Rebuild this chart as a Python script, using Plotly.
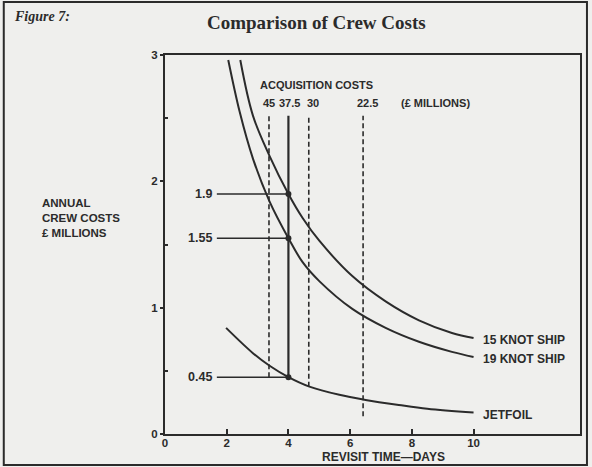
import plotly.graph_objects as go

# Annual crew cost (£ millions) against revisit time (days)
ship15_days = [2.44, 2.85, 3.39, 4.0, 4.46, 5.0, 6.07, 7.15, 8.23, 9.3, 10.0]
ship15_cost = [2.96, 2.52, 2.20, 1.9, 1.71, 1.53, 1.25, 1.05, 0.90, 0.80, 0.76]

ship19_days = [2.05, 2.42, 2.85, 3.39, 4.0, 4.46, 5.0, 6.07, 7.15, 8.23, 9.3, 10.0]
ship19_cost = [2.96, 2.55, 2.18, 1.84, 1.55, 1.36, 1.21, 0.99, 0.84, 0.73, 0.65, 0.61]

jetfoil_days = [1.98, 2.85, 3.39, 4.0, 4.68, 5.65, 6.5, 7.58, 8.5, 10.0]
jetfoil_cost = [0.84, 0.64, 0.54, 0.45, 0.375, 0.31, 0.27, 0.23, 0.20, 0.17]

curve_names = ["15 KNOT SHIP", "19 KNOT SHIP", "JETFOIL"]

# Acquisition cost markers (£ millions) and the revisit time each sits at
acq_labels = ["45", "37.5", "30", "22.5"]
acq_days = [3.37, 4.0, 4.66, 6.42]
acq_floor = [0.45, 0.45, 0.375, 0.14]
acq_top = 2.52

# Crew cost read-off at a 4-day revisit
readout_day = 4.0
readout_cost = [1.9, 1.55, 0.45]
readout_labels = ["1.9", "1.55", "0.45"]
readout_start = 1.68

x_ticks = [0, 2, 4, 6, 8, 10]
y_ticks = [0, 1, 2, 3]
y_minor = [0.5, 1.5, 2.5]

INK = "#2b2b2b"
PAPER = "#efefed"
SANS = "Liberation Sans"
SERIF = "Liberation Serif"

W, H = 592, 467
L, R, T, B = 165, 10, 55, 33
PW, PH = W - L - R, H - T - B


def px_x(p):
    return (p - L) / PW


def px_y(p):
    return (H - B - p) / PH


def b(s):
    return "<b>" + s + "</b>"


fig = go.Figure()

# Cost curves
for days, cost in [(ship15_days, ship15_cost), (ship19_days, ship19_cost),
                   (jetfoil_days, jetfoil_cost)]:
    fig.add_trace(go.Scatter(x=days, y=cost, mode="lines",
                             line=dict(color=INK, width=2, shape="spline", smoothing=1.0),
                             hoverinfo="skip", showlegend=False))

# Acquisition cost lines: the 37.5 option is solid, the others dashed
for lab, d, lo in zip(acq_labels, acq_days, acq_floor):
    solid = lab == "37.5"
    fig.add_trace(go.Scatter(x=[d, d], y=[lo, acq_top], mode="lines",
                             line=dict(color=INK, width=2.2 if solid else 1.6,
                                       dash="solid" if solid else "5px,3px"),
                             hoverinfo="skip", showlegend=False))

# Horizontal read-off lines and intersection dots
for c in readout_cost:
    fig.add_trace(go.Scatter(x=[readout_start, readout_day], y=[c, c], mode="lines",
                             line=dict(color=INK, width=1.5),
                             hoverinfo="skip", showlegend=False))
fig.add_trace(go.Scatter(x=[readout_day] * len(readout_cost), y=readout_cost, mode="markers",
                         marker=dict(color=INK, size=6),
                         hoverinfo="skip", showlegend=False))

sans = dict(family=SANS, color=INK)
ann = []

for lab, c in zip(readout_labels, readout_cost):
    ann.append(dict(x=readout_start, y=c, xref="x", yref="y", text=b(lab), showarrow=False,
                    xanchor="right", yanchor="middle", xshift=-3,
                    font=dict(size=12.5, **sans)))

acq_shift = [0, 1, 4, 4]
for lab, d, s in zip(acq_labels, acq_days, acq_shift):
    ann.append(dict(x=d, y=2.62, xref="x", yref="y", text=b(lab), showarrow=False,
                    xanchor="center", yanchor="middle", xshift=s,
                    font=dict(size=11, **sans)))
ann.append(dict(x=4.92, y=2.76, xref="x", yref="y", text=b("ACQUISITION COSTS"),
                showarrow=False, xanchor="center", yanchor="middle",
                font=dict(size=11, **sans)))
ann.append(dict(x=8.77, y=2.62, xref="x", yref="y", text=b("(£ MILLIONS)"),
                showarrow=False, xanchor="center", yanchor="middle",
                font=dict(size=11, **sans)))

ends = [(ship15_days[-1], ship15_cost[-1]), (ship19_days[-1], ship19_cost[-1]),
        (jetfoil_days[-1], jetfoil_cost[-1])]
for name, (d, c) in zip(curve_names, ends):
    ann.append(dict(x=d, y=c, xref="x", yref="y", text=b(name), showarrow=False,
                    xanchor="left", yanchor="middle", xshift=7, yshift=-2,
                    font=dict(size=12, **sans)))

ann.append(dict(x=px_x(317), y=px_y(22), xref="paper", yref="paper",
                text=b("Comparison of Crew Costs"), showarrow=False,
                xanchor="center", yanchor="middle",
                font=dict(family=SERIF, size=19, color=INK)))
ann.append(dict(x=px_x(11), y=px_y(16), xref="paper", yref="paper",
                text="<b><i>Figure 7:</i></b>", showarrow=False,
                xanchor="left", yanchor="middle",
                font=dict(family=SERIF, size=14, color=INK)))
ann.append(dict(x=px_x(39), y=px_y(218), xref="paper", yref="paper",
                text=b("ANNUAL<br>CREW COSTS<br>£ MILLIONS"), showarrow=False,
                xanchor="left", yanchor="middle", align="left",
                font=dict(size=11.5, **sans)))
ann.append(dict(x=px_x(385), y=px_y(457), xref="paper", yref="paper",
                text=b("REVISIT TIME—DAYS"), showarrow=False,
                xanchor="center", yanchor="middle",
                font=dict(size=12, **sans)))

fig.update_layout(
    width=W, height=H,
    margin=dict(l=L, r=R, t=T, b=B, pad=0),
    paper_bgcolor=PAPER, plot_bgcolor=PAPER,
    annotations=ann,
    shapes=[dict(type="rect", xref="paper", yref="paper",
                 x0=px_x(3), x1=px_x(589), y0=px_y(465), y1=px_y(2),
                 line=dict(color=INK, width=2), fillcolor="rgba(0,0,0,0)", layer="below")],
    xaxis=dict(range=[0, 13.45], showgrid=False, zeroline=False,
               showline=True, linecolor=INK, linewidth=2, mirror=True,
               ticks="inside", ticklen=5, tickwidth=1.5, tickcolor=INK,
               tickvals=x_ticks, ticktext=[b(str(v)) for v in x_ticks],
               tickfont=dict(size=11.5, **sans), ticklabelstandoff=-3),
    yaxis=dict(range=[0, 3], showgrid=False, zeroline=False,
               showline=True, linecolor=INK, linewidth=2, mirror=True,
               ticks="outside", ticklen=3, tickwidth=1.5, tickcolor=INK,
               tickvals=y_ticks, ticktext=[b(str(v)) for v in y_ticks],
               tickfont=dict(size=11.5, **sans),
               minor=dict(tickvals=y_minor, ticks="inside", ticklen=3,
                          tickwidth=1.5, tickcolor=INK)),
)

fig.write_html("out.html")
